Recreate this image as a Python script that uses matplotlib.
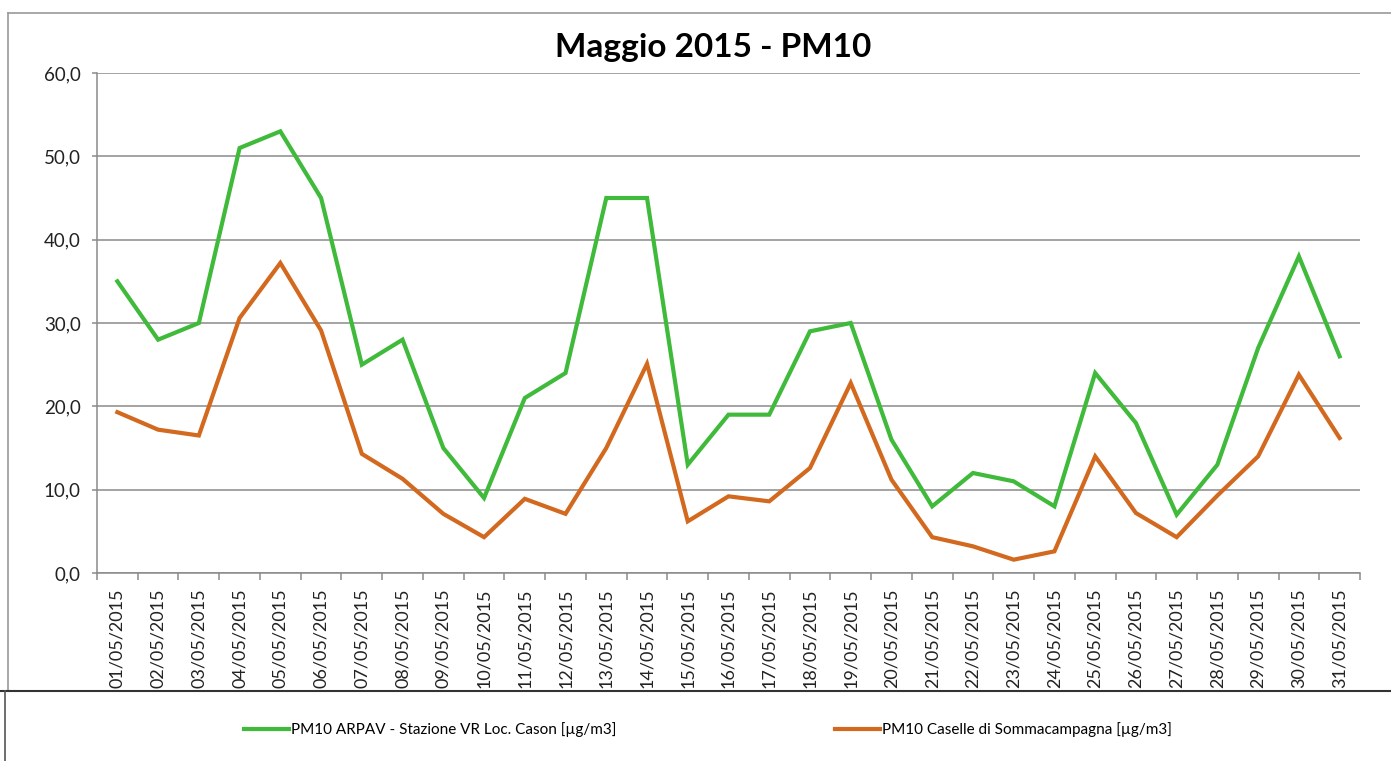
import matplotlib
matplotlib.use("Agg")
import matplotlib.pyplot as plt
from matplotlib.lines import Line2D
from matplotlib.ticker import FixedLocator, FuncFormatter

dates = [f"{d:02d}/05/2015" for d in range(1, 32)]
arpav = [35, 28, 30, 51, 53, 45, 25, 28, 15, 9, 21, 24, 45, 45, 13, 19, 19, 29, 30,
         16, 8, 12, 11, 8, 24, 18, 7, 13, 27, 38, 26]
caselle = [19.3, 17.2, 16.5, 30.6, 37.2, 29.1, 14.3, 11.3, 7.1, 4.3, 8.9, 7.1, 15.0,
           25.1, 6.2, 9.2, 8.6, 12.6, 22.8, 11.2, 4.3, 3.2, 1.6, 2.6, 14.0, 7.2, 4.3,
           9.3, 14.0, 23.8, 16.2]
label_arpav = "PM10 ARPAV - Stazione VR Loc. Cason [µg/m3]"
label_caselle = "PM10 Caselle di Sommacampagna [µg/m3]"
title = "Maggio 2015 - PM10"
yticks = [0, 10, 20, 30, 40, 50, 60]

plt.rcParams['font.family'] = ['Lato', 'DejaVu Sans']

fig = plt.figure(figsize=(13.91, 7.61), dpi=100)
ax = fig.add_axes([97/1391, 1-573/761, (1360-97)/1391, (573-73)/761])

x = list(range(len(dates)))
ax.plot(x, arpav, color='#3fba3a', lw=3.0, label=label_arpav, solid_joinstyle='miter')
ax.plot(x, caselle, color='#d2691e', lw=3.0, label=label_caselle, solid_joinstyle='miter')

ax.set_xlim(-0.5, len(dates) - 0.5)
ax.set_ylim(0, 60)
ax.set_yticks(yticks)
ax.yaxis.set_major_formatter(FuncFormatter(lambda v, p: f"{v:.1f}".replace('.', ',')))
ax.grid(axis='y', color='#8a8a8a', lw=1.1)
ax.set_axisbelow(True)

ax.set_xticks(x)
ax.set_xticklabels(dates, rotation=90, fontsize=13, color='#222222')
ax.tick_params(axis='x', which='major', length=0, pad=11)
ax.xaxis.set_minor_locator(FixedLocator([i - 0.5 for i in range(len(dates) + 1)]))
ax.tick_params(axis='x', which='minor', length=5, color='#8a8a8a', width=1.1)
ax.tick_params(axis='y', length=3.6, color='#8a8a8a', width=1.1, labelsize=13.5,
               labelcolor='#222222', pad=8)

for s in ['top', 'right']:
    ax.spines[s].set_visible(False)
ax.spines['left'].set_color('#8a8a8a')
ax.spines['bottom'].set_color('#8a8a8a')
ax.spines['left'].set_linewidth(1.1)
ax.spines['bottom'].set_linewidth(1.1)

fig.text(713/1391, 1-47/761, title, ha='center', va='center', fontsize=24, fontweight='bold')

# chart borders
fig.add_artist(Line2D([8/1391, 1.0], [1-13/761, 1-13/761], transform=fig.transFigure, color='#999999', lw=1.2))
fig.add_artist(Line2D([8/1391, 8/1391], [1-13/761, 1-690/761], transform=fig.transFigure, color='#999999', lw=1.2))
fig.add_artist(Line2D([0, 1.0], [1-691/761, 1-691/761], transform=fig.transFigure, color='#333333', lw=1.5))
fig.add_artist(Line2D([5/1391, 5/1391], [1-691/761, 0], transform=fig.transFigure, color='#555555', lw=1.2))

fig.legend(loc='center', bbox_to_anchor=(708/1391, 1-730/761), ncol=2, frameon=False,
           fontsize=11, handlelength=2.95, handletextpad=0.13, columnspacing=14.3)

fig.savefig('out.png', dpi=100)
